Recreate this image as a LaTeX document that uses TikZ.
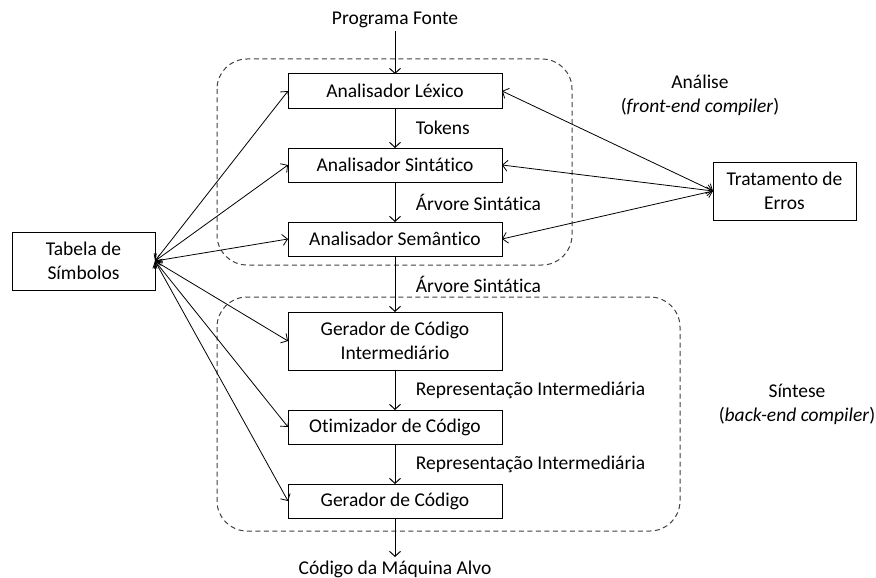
\documentclass[tikz,border=0pt]{standalone}
\usepackage{fontspec}
\setmainfont{Carlito}[Ligatures=NoCommon]
\usetikzlibrary{positioning,arrows.meta}

\begin{document}
\begin{tikzpicture}[on grid,node distance=74pt,x=1pt,y=1pt,font=\fontsize{19.5}{24}\selectfont]

	\useasboundingbox (0,0) rectangle (876,-578);

	\tikzset{
		compBox/.style={
			draw,
			line width=1pt,
			minimum width=214pt,
			minimum height=34pt,
			inner sep=0,
			outer sep=0pt,
			align=center,
		},
		sideBox/.style={
			draw,
			line width=1pt,
			minimum width=143pt,
			minimum height=58pt,
			inner sep=0,
			outer sep=0pt,
			align=center,
		},
		flow/.style={line width=1pt, -{Straight Barb[length=5pt,width=11pt]}},
		link/.style={line width=0.8pt, {Straight Barb[length=5pt,width=11pt]}-{Straight Barb[length=5pt,width=11pt]}},
		stageFrame/.style={draw=black!75, line width=1pt, dash pattern=on 5pt off 3.5pt, rounded corners=30pt},
		flowLabel/.style={right=17pt},
	}

	% Frontend
	\node[compBox] (lex) at (395,-91) {Analisador Léxico};
	\node[compBox,below=of lex] (sin) {Analisador Sintático};
	\node[compBox,below=of sin] (sem) {Analisador Semântico};

	% Backend
	\node[compBox,minimum height=58pt,below=102pt of sem] (gci) {Gerador de Código\\Intermediário};
	\node[compBox,below=86pt of gci] (oti) {Otimizador de Código};
	\node[compBox,below=of oti] (gc) {Gerador de Código};

	% Input / output
	\node (src) at (395,-20) {Programa Fonte};
	\node (alvo) at (395,-569) {Código da Máquina Alvo};

	% Side boxes
	\node[sideBox] (tab) at (83.5,-261) {Tabela de\\Símbolos};
	\node[sideBox] (err) at (784.5,-191) {Tratamento de\\Erros};

	% Frames
	\draw[stageFrame] (217,-59) rectangle (572,-265);
	\draw[stageFrame] (217,-297) rectangle (680,-531);
	\node[align=center] (ana) at (700,-95) {Análise\\(\textit{front-end compiler})};
	\node[align=center] (snt) at (797,-404) {Síntese\\(\textit{back-end compiler})};

	% Main flow
	\draw[flow] (src) -- (lex);
	\draw[flow] (lex) -- node[flowLabel] {Tokens} (sin);
	\draw[flow] (sin) -- node[flowLabel] {Árvore Sintática} (sem);
	\draw[flow] (sem) -- node[flowLabel] {Árvore Sintática} (gci);
	\draw[flow] (gci) -- node[flowLabel] {Representação Intermediária} (oti);
	\draw[flow] (oti) -- node[flowLabel] {Representação Intermediária} (gc);
	\draw[flow] (gc) -- (alvo);

	% Symbol table and errors
	\foreach \n in {lex,sin,sem,gci,oti,gc}
		\draw[link] (tab.east) -- (\n.west);
	\foreach \n in {lex,sin,sem}
		\draw[link] (err.west) -- (\n.east);

\end{tikzpicture}
\end{document}
